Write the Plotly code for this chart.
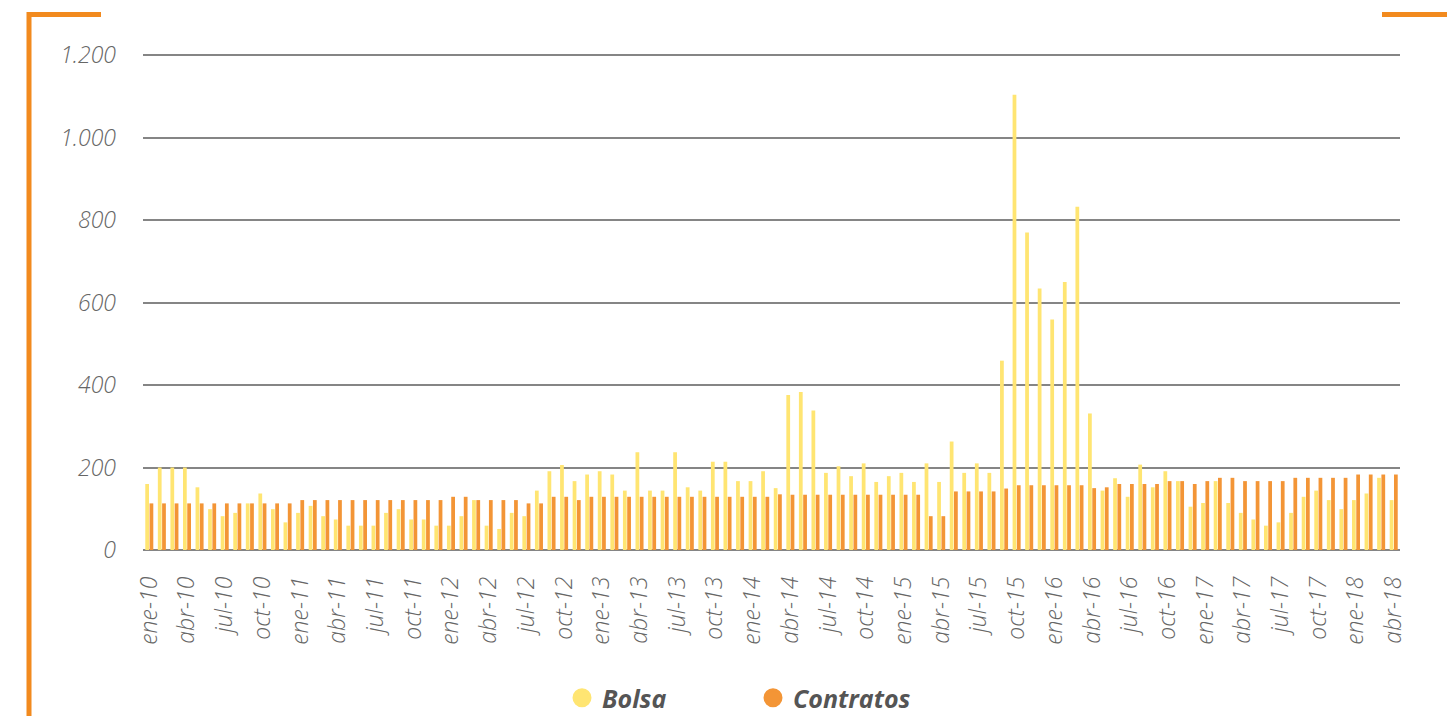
import plotly.graph_objects as go

month_abbr = ["ene", "feb", "mar", "abr", "may", "jun", "jul", "ago", "sep", "oct", "nov", "dic"]
years = ["10", "11", "12", "13", "14", "15", "16", "17", "18"]
months = [f"{m}-{y}" for y in years for m in month_abbr][:100]

bolsa = [160, 200, 200, 200, 152, 99, 82, 90, 113, 137, 99, 67,
         90, 107, 82, 74, 59, 59, 59, 90, 99, 74, 74, 59,
         59, 82, 121, 59, 51, 90, 82, 144, 191, 206, 167, 183,
         191, 183, 144, 237, 144, 144, 237, 152, 144, 214, 214, 167,
         167, 191, 150, 376, 383, 338, 187, 203, 179, 210, 165, 179,
         187, 165, 210, 165, 263, 187, 210, 187, 459, 1104, 770, 634,
         559, 650, 832, 331, 144, 174, 129, 207, 152, 191, 167, 105,
         114, 167, 114, 90, 74, 59, 67, 90, 129, 144, 121, 99,
         121, 137, 175, 121]

contratos = [113, 113, 113, 113, 113, 113, 113, 113, 113, 113, 113, 113,
             121, 121, 121, 121, 121, 121, 121, 121, 121, 121, 121, 121,
             129, 129, 121, 121, 121, 121, 113, 113, 129, 129, 121, 129,
             129, 129, 129, 129, 129, 129, 129, 129, 129, 129, 129, 129,
             129, 129, 135, 134, 134, 134, 134, 134, 134, 134, 134, 134,
             134, 134, 82, 82, 142, 142, 142, 142, 149, 157, 157, 157,
             157, 157, 157, 150, 152, 160, 160, 160, 160, 167, 167, 160,
             167, 175, 175, 167, 167, 167, 167, 175, 175, 175, 175, 175,
             183, 183, 183, 183]

tick_labels = months[::3]

C_BOLSA = "#FFE572"
C_CONTR = "#F39536"
FRAME = "#F28A1E"
TXT = "#666666"

fig = go.Figure()
fig.add_trace(go.Bar(x=months, y=bolsa, name="Bolsa", marker=dict(color=C_BOLSA, line=dict(width=0)),
                     showlegend=False))
fig.add_trace(go.Bar(x=months, y=contratos, name="Contratos", marker=dict(color=C_CONTR, line=dict(width=0)),
                     showlegend=False))
# legend entries with circular symbols
fig.add_trace(go.Scatter(x=[None], y=[None], mode="markers", name="Bolsa",
                         marker=dict(symbol="circle", size=16, color=C_BOLSA,
                                     line=dict(color=C_BOLSA, width=3))))
fig.add_trace(go.Scatter(x=[None], y=[None], mode="markers", name="Contratos",
                         marker=dict(symbol="circle", size=16, color=C_CONTR,
                                     line=dict(color=C_CONTR, width=3))))

# page body has an 8px margin; figure is placed at (8, 8)
OFF = 8
W, H = 1455 - OFF, 716 - OFF
L = 143 - OFF
T = 54 - OFF
plot_bottom = 550 - OFF
plot_right = 1400 - OFF
B = H - plot_bottom
R = W - plot_right
pw, ph = W - L - R, H - T - B

def px(x):  # page pixel -> paper
    return (x - OFF - L) / pw

def py(y):
    return (H - B - (y - OFF)) / ph

shapes = [
    dict(type="path", xref="paper", yref="paper",
         path=f"M {px(101)} {py(14.5)} L {px(29)} {py(14.5)} L {px(29)} {py(730)}",
         line=dict(color=FRAME, width=5)),
    dict(type="path", xref="paper", yref="paper",
         path=f"M {px(1382)} {py(14.5)} L {px(1453)} {py(14.5)} L {px(1453)} {py(730)}",
         line=dict(color=FRAME, width=5)),
]

fig.update_layout(
    width=W, height=H,
    margin=dict(l=L, r=R, t=T, b=B, pad=0, autoexpand=False),
    paper_bgcolor="white", plot_bgcolor="white",
    barmode="group", bargap=0.32, bargroupgap=0.12,
    separators=",.",
    font=dict(family="Open Sans", color=TXT),
    shapes=shapes,
    showlegend=True,
    legend=dict(orientation="h", x=px(753), xanchor="center", y=py(698), yanchor="middle",
                font=dict(family="Open Sans", size=25, color="#555555", weight="bold", style="italic"),
                entrywidth=146, itemsizing="trace", bgcolor="rgba(0,0,0,0)"),
)
fig.update_xaxes(
    type="category", categoryorder="array", categoryarray=months,
    tickmode="array", tickvals=tick_labels, ticktext=tick_labels,
    tickangle=-90, showgrid=False, showline=False, ticks="", automargin=False,
    tickfont=dict(family="Open Sans", size=23, color=TXT, style="italic", weight=300),
    ticklabelstandoff=21,
)
fig.update_yaxes(
    range=[0, 1202.5], tickmode="array", tickvals=[0, 200, 400, 600, 800, 1000, 1200],
    tickformat=",d", automargin=False,
    showgrid=True, gridcolor="#858585", gridwidth=1.5,
    zeroline=True, zerolinecolor="#858585", zerolinewidth=1.5,
    showline=False, ticks="",
    tickfont=dict(family="Open Sans", size=23, color=TXT, style="italic", weight=300),
    ticklabelstandoff=26,
)

fig.write_html("out.html")
